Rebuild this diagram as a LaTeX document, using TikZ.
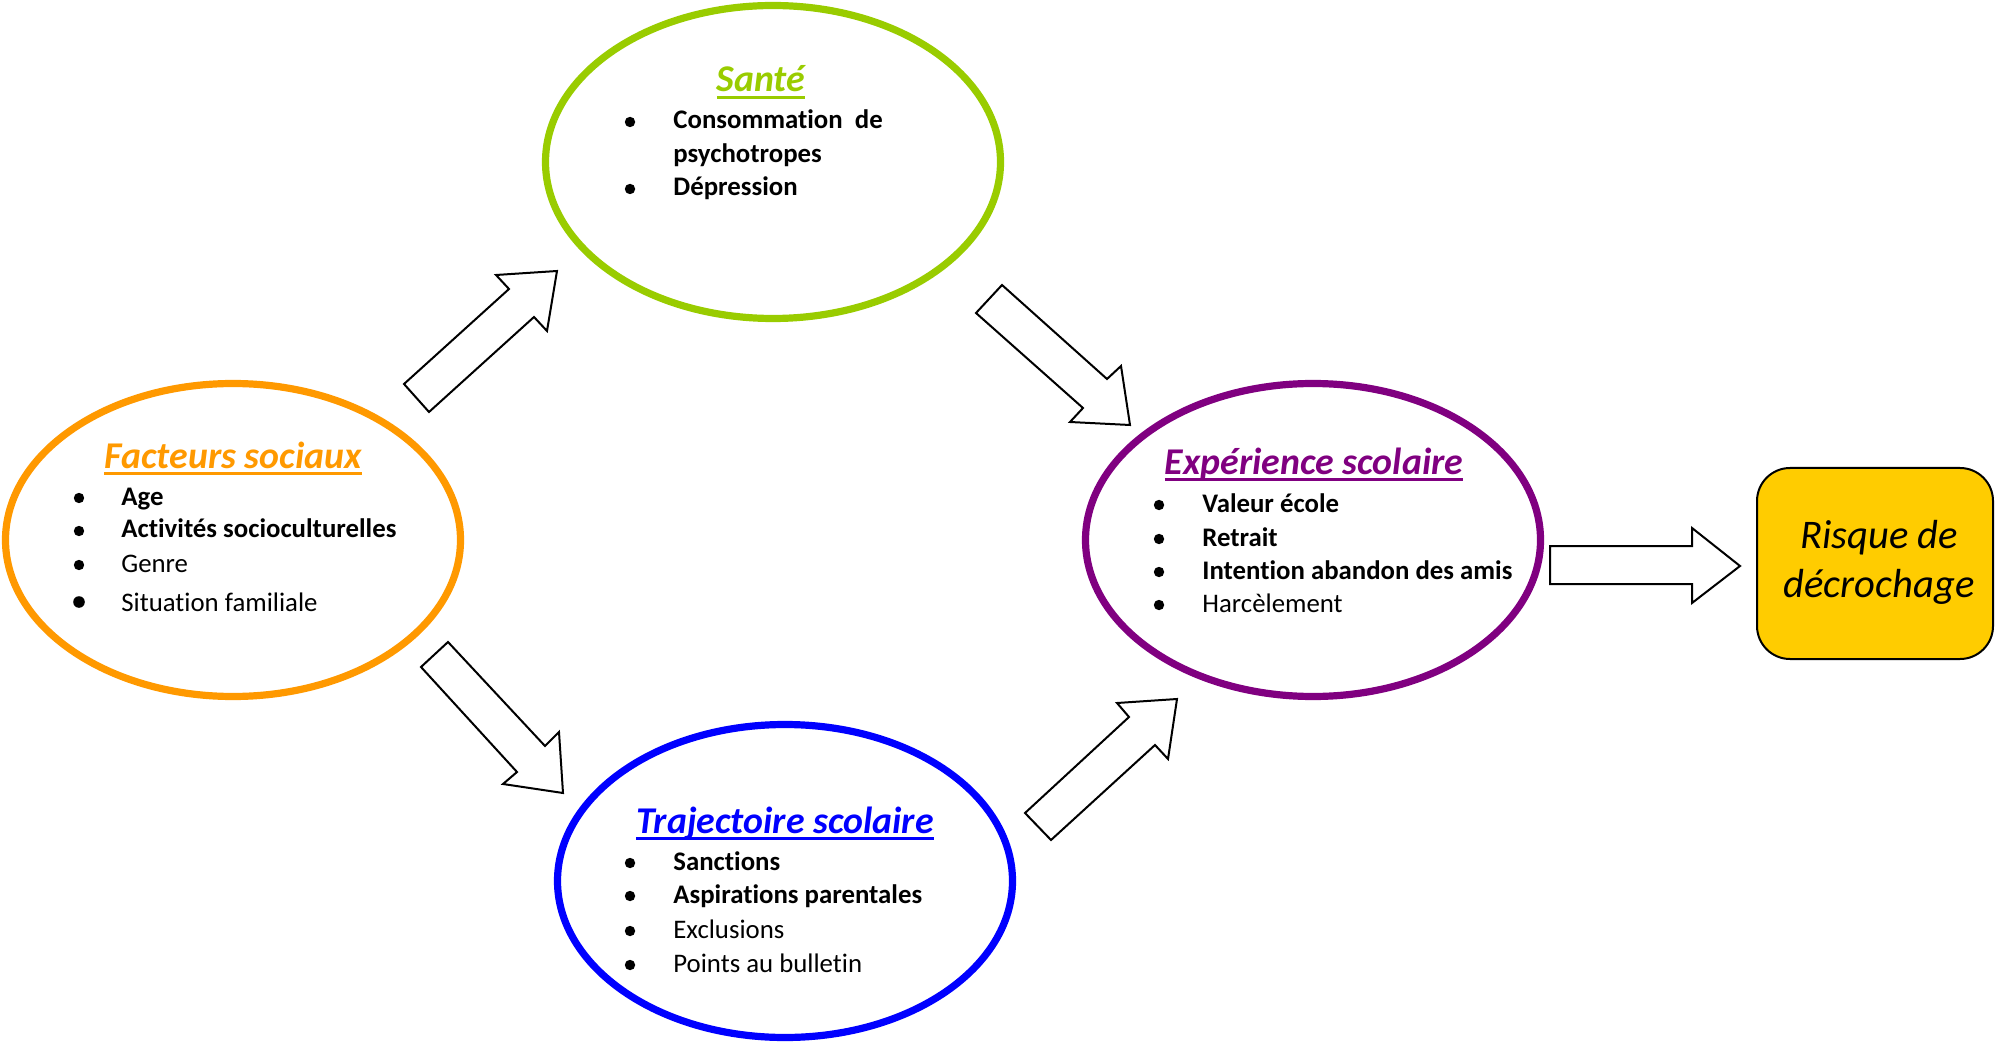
\documentclass[tikz,border=0pt]{standalone}
\usepackage{fontspec}
\setmainfont{Carlito}[Ligatures=NoCommon]
\usetikzlibrary{shapes.geometric}
\definecolor{cOrange}{HTML}{FF9900}
\definecolor{cGreen}{HTML}{99CC00}
\definecolor{cPurple}{HTML}{800080}
\definecolor{cBlue}{HTML}{0000FF}
\definecolor{cYellow}{HTML}{FFCC00}
\newcommand\ulin[1]{\setbox0\hbox{#1}\rlap{\rule[-0.19em]{\wd0}{0.08em}}\box0}
\begin{document}
\begin{tikzpicture}[x=0.5pt,y=-0.5pt,
  oval/.style={ellipse, draw, line width=3.6pt, minimum width=227.5pt, minimum height=156.5pt, inner sep=0},
  titletext/.style={anchor=base, inner sep=0, font=\fontsize{18.9}{22}\selectfont\bfseries\itshape},
  itemtext/.style={anchor=base west, inner sep=0, font=\fontsize{13.4}{16}\selectfont},
  bolditem/.style={itemtext, font=\fontsize{13.4}{16}\selectfont\bfseries},
  dot/.style={circle, fill=black, inner sep=0, minimum size=5.2pt},
  blockarrow/.style={draw=black, line width=1pt, fill=white, line join=miter},
  riskbox/.style={draw=black, line width=1pt, fill=cYellow, rounded corners=16.5pt, minimum width=118pt, minimum height=95.5pt, inner sep=0},
  risktext/.style={anchor=base, inner sep=0, font=\fontsize{20.3}{24}\selectfont\itshape}
]
\useasboundingbox (0,0) rectangle (1995,1042);

% ovals
\node[oval, draw=cOrange] (fs) at (233,540) {};
\node[oval, draw=cGreen] (sa) at (773,162) {};
\node[oval, draw=cPurple] (es) at (1313,540) {};
\node[oval, draw=cBlue] (ts) at (785,881) {};
\node[riskbox] (rd) at (1875,563.5) {};

% block arrows
\draw[blockarrow] (404,384) -- (509,289) -- (496,275) -- (557,271) -- (547,331) -- (534,317) -- (429,412) -- cycle;
\draw[blockarrow] (448,642) -- (545,746) -- (559,732) -- (563,793) -- (503,784) -- (517,772) -- (421,667) -- cycle;
\draw[blockarrow] (1002,285) -- (1107,379) -- (1121,366) -- (1130,425) -- (1070,422) -- (1083,408) -- (976,313) -- cycle;
\draw[blockarrow] (1025,813) -- (1129,717) -- (1117,703) -- (1177,699) -- (1168,759) -- (1155,745) -- (1051,840) -- cycle;
\draw[blockarrow] (1550,546) -- (1692,546) -- (1692,528) -- (1740,566) -- (1692,603) -- (1692,584) -- (1550,584) -- cycle;

% Facteurs sociaux
\node[titletext, text=cOrange] (fsT) at (233,468) {\ulin{Facteurs sociaux}};
\node[dot] (fsb1) at (79,498) {};
\node[dot] (fsb2) at (79,531) {};
\node[dot] (fsb3) at (79,565) {};
\node[dot, minimum size=5.8pt] (fsb4) at (79,602) {};
\node[bolditem] (fs1) at (121,505) {Age};
\node[bolditem] (fs2) at (121,538) {Activités socioculturelles};
\node[itemtext] (fs3) at (121,572) {Genre};
\node[itemtext] (fs4) at (121,611) {Situation familiale};

% Santé
\node[titletext, text=cGreen] (saT) at (761,92) {\ulin{Santé}};
\node[dot] (sab1) at (630,122) {};
\node[dot] (sab2) at (630,189) {};
\node[bolditem] (sa1) at (673,129) {Consommation~~de};
\node[bolditem] (sa1b) at (673,163) {psychotropes};
\node[bolditem] (sa2) at (673,196) {Dépression};

% Expérience scolaire
\node[titletext, text=cPurple] (esT) at (1314,474) {\ulin{Expérience scolaire}};
\node[dot] (esb1) at (1159,505) {};
\node[dot] (esb2) at (1159,539) {};
\node[dot] (esb3) at (1159,572) {};
\node[dot] (esb4) at (1159,605) {};
\node[bolditem] (es1) at (1202,512) {Valeur école};
\node[bolditem] (es2) at (1202,546) {Retrait};
\node[bolditem] (es3) at (1202,579) {Intention abandon des amis};
\node[itemtext] (es4) at (1202,612) {Harcèlement};

% Trajectoire scolaire
\node[titletext, text=cBlue] (tsT) at (785,833) {\ulin{Trajectoire scolaire}};
\node[dot] (tsb1) at (630,863) {};
\node[dot] (tsb2) at (630,896) {};
\node[dot] (tsb3) at (630,931) {};
\node[dot] (tsb4) at (630,965) {};
\node[bolditem] (ts1) at (673,870) {Sanctions};
\node[bolditem] (ts2) at (673,903) {Aspirations parentales};
\node[itemtext] (ts3) at (673,938) {Exclusions};
\node[itemtext] (ts4) at (673,972) {Points au bulletin};

% Risque
\node[risktext] (rd1) at (1879,548) {Risque de};
\node[risktext] (rd2) at (1879,597) {décrochage};
\end{tikzpicture}
\end{document}
